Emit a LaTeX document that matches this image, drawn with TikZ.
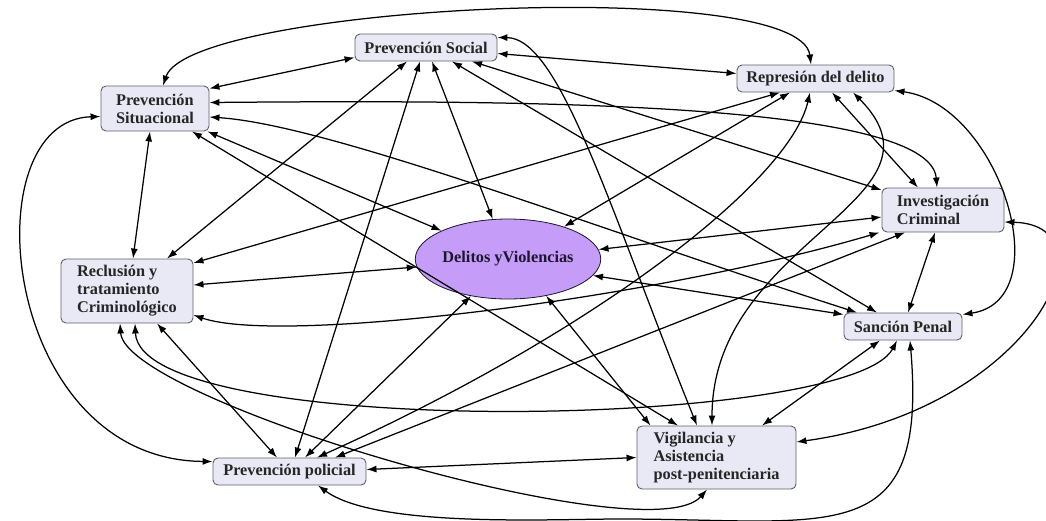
\documentclass[tikz,border=0pt]{standalone}
\usepackage{fontspec}
\setmainfont{Liberation Serif}
\usetikzlibrary{arrows.meta,shapes.geometric}
\definecolor{cajafondo}{RGB}{232,233,245}
\definecolor{cajaborde}{RGB}{95,95,105}
\definecolor{violeta}{RGB}{197,156,247}
\definecolor{tinta}{RGB}{28,22,48}
\begin{document}
\begin{tikzpicture}[x=1pt,y=-1pt,line join=round,>={Latex[length=10pt,width=7pt]},
	caja/.style={draw=cajaborde,fill=cajafondo,rounded corners=5pt,line width=0.9pt,font=\fontsize{16.3}{18}\selectfont\bfseries,text=black!85,align=left,inner sep=0pt},
	flecha/.style={<->,line width=1.25pt}]
	\useasboundingbox (0,0) rectangle (1046,520);
	\node[caja,minimum width=142pt,minimum height=27pt] (ps) at (426,47.5) {Prevención Social};
	\node[caja,minimum width=108pt,minimum height=45pt] (psit) at (155,108.5) {Prevención\\Situacional};
	\node[caja,minimum width=157pt,minimum height=27pt] (rd) at (815.5,78.5) {Represión del delito};
	\node[caja,minimum width=122pt,minimum height=44pt] (ic) at (943,210) {Investigación\\Criminal};
	\node[caja,minimum width=132pt,minimum height=64pt] (rt) at (127,291) {Reclusión y\\tratamiento\\Criminológico};
	\node[caja,minimum width=118pt,minimum height=27pt] (sp) at (903,326.5) {Sanción Penal};
	\node[caja,minimum width=153pt,minimum height=27pt] (pp) at (289.5,471.5) {Prevención policial};
	\node[caja,minimum width=159pt,minimum height=63pt] (va) at (716.5,457.5) {Vigilancia y\\Asistencia\\post-penitenciaria};
	\node[ellipse,draw=tinta,fill=violeta,line width=0.8pt,minimum width=168pt,minimum height=80pt,inner sep=0pt,font=\fontsize{16.3}{18}\selectfont\bfseries,text=tinta] (dv) at (508,259) {Delitos yViolencias};
	% rectas
	\draw[flecha] ([yshift=-10pt]ps.west) -- ([yshift=20pt]psit.east);
	\draw[flecha] ([yshift=-6pt]ps.east) -- ([yshift=5pt]rd.west);
	\draw[flecha] ([xshift=46pt]ps.south) -- ([yshift=20pt]ic.west);
	\draw[flecha] ([xshift=6pt]ps.south) -- (dv.111);
	\draw[flecha] ([xshift=26pt]ps.south) -- ([xshift=-26pt]sp.north);
	\draw[flecha] ([xshift=-6pt]ps.south) -- ([xshift=5.5pt]pp.north);
	\draw[flecha] ([xshift=-19pt]ps.south) -- ([xshift=40pt]rt.north);
	\draw[flecha] ([xshift=-5pt]psit.south) -- ([xshift=6pt]rt.north);
	\draw[flecha] ([xshift=37pt]psit.south) -- ([xshift=-38.5pt]va.north);
	\draw[flecha] ([xshift=-2pt]psit.south east) -- (dv.157);
	\draw[flecha] ([xshift=16.5pt]rd.south) -- ([xshift=-25pt]ic.north);
	\draw[flecha] ([xshift=-25.5pt]rd.south) -- (dv.30);
	\draw[flecha] ([xshift=-35.5pt]rd.south) -- ([yshift=28pt]rt.east);
	\draw[flecha] ([yshift=-7pt]ic.west) -- (dv.6);
	\draw[flecha] ([xshift=-8pt]ic.south) -- ([xshift=5pt]sp.north);
	\draw[flecha] ([xshift=-38pt]ic.south) -- ([xshift=45.5pt]pp.north);
	\draw[flecha] (dv.185) -- ([yshift=6pt]rt.east);
	\draw[flecha] (dv.-11) -- ([yshift=12pt]sp.west);
	\draw[flecha] (dv.225) -- ([xshift=15.5pt]pp.north);
	\draw[flecha] (dv.-44) -- ([xshift=-66pt]va.north);
	\draw[flecha] ([xshift=30pt]rt.south) -- ([xshift=-12.5pt]pp.north);
	\draw[flecha] ([xshift=-23pt]sp.south) -- ([xshift=45.5pt]va.north);
	\draw[flecha] ([yshift=2pt]pp.east) -- (va.west);
	% curvas
	\draw[flecha] ([xshift=8pt]psit.north) .. controls (190,5) and (800,-25) .. ([xshift=-4.5pt]rd.north);
	\draw[flecha] ([yshift=-8pt]psit.west) .. controls (-30,120) and (0,460) .. ([yshift=10pt]pp.west);
	\draw[flecha] ([yshift=-12pt]rd.east) .. controls (1000,105) and (1060,300) .. ([yshift=12pt]sp.east);
	\draw[flecha] ([yshift=-12pt]ic.east) .. controls (1120,225) and (1030,410) .. ([yshift=15.5pt]va.east);
	\draw[flecha] ([xshift=28.5pt]pp.south) .. controls (376,528) and (549,519) .. (620,519) .. controls (833,519) and (928,552) .. ([xshift=7pt]sp.south);
	\draw[flecha] ([xshift=-7pt]rt.south) .. controls (125,400) and (650,555) .. ([xshift=-9.5pt]va.south);
	\draw[flecha] ([xshift=8pt]rt.south) .. controls (140,440) and (850,430) .. ([xshift=-6pt]sp.south);
	\draw[flecha] ([yshift=-24pt]rt.east) .. controls (280,345) and (650,300) .. ([xshift=-2pt]ic.south west);
	\draw[flecha] ([yshift=6pt]psit.east) .. controls (500,100) and (930,100) .. ([xshift=-6pt]ic.north);
	\draw[flecha] ([yshift=10pt]ps.east) .. controls (560,38) and (610,210) .. ([xshift=-19.5pt]va.north);
	\draw[flecha] ([xshift=37.5pt]rd.south) .. controls (960,200) and (712,240) .. ([xshift=-4.5pt]va.north);
	\draw[flecha] ([xshift=-5.5pt]rd.south) .. controls (790,180) and (600,330) .. ([xshift=27.5pt]pp.north);
	\draw[flecha] ([yshift=-8.5pt]psit.east) .. controls (330,125) and (600,230) .. ([xshift=-46pt]sp.north);
\end{tikzpicture}
\end{document}
